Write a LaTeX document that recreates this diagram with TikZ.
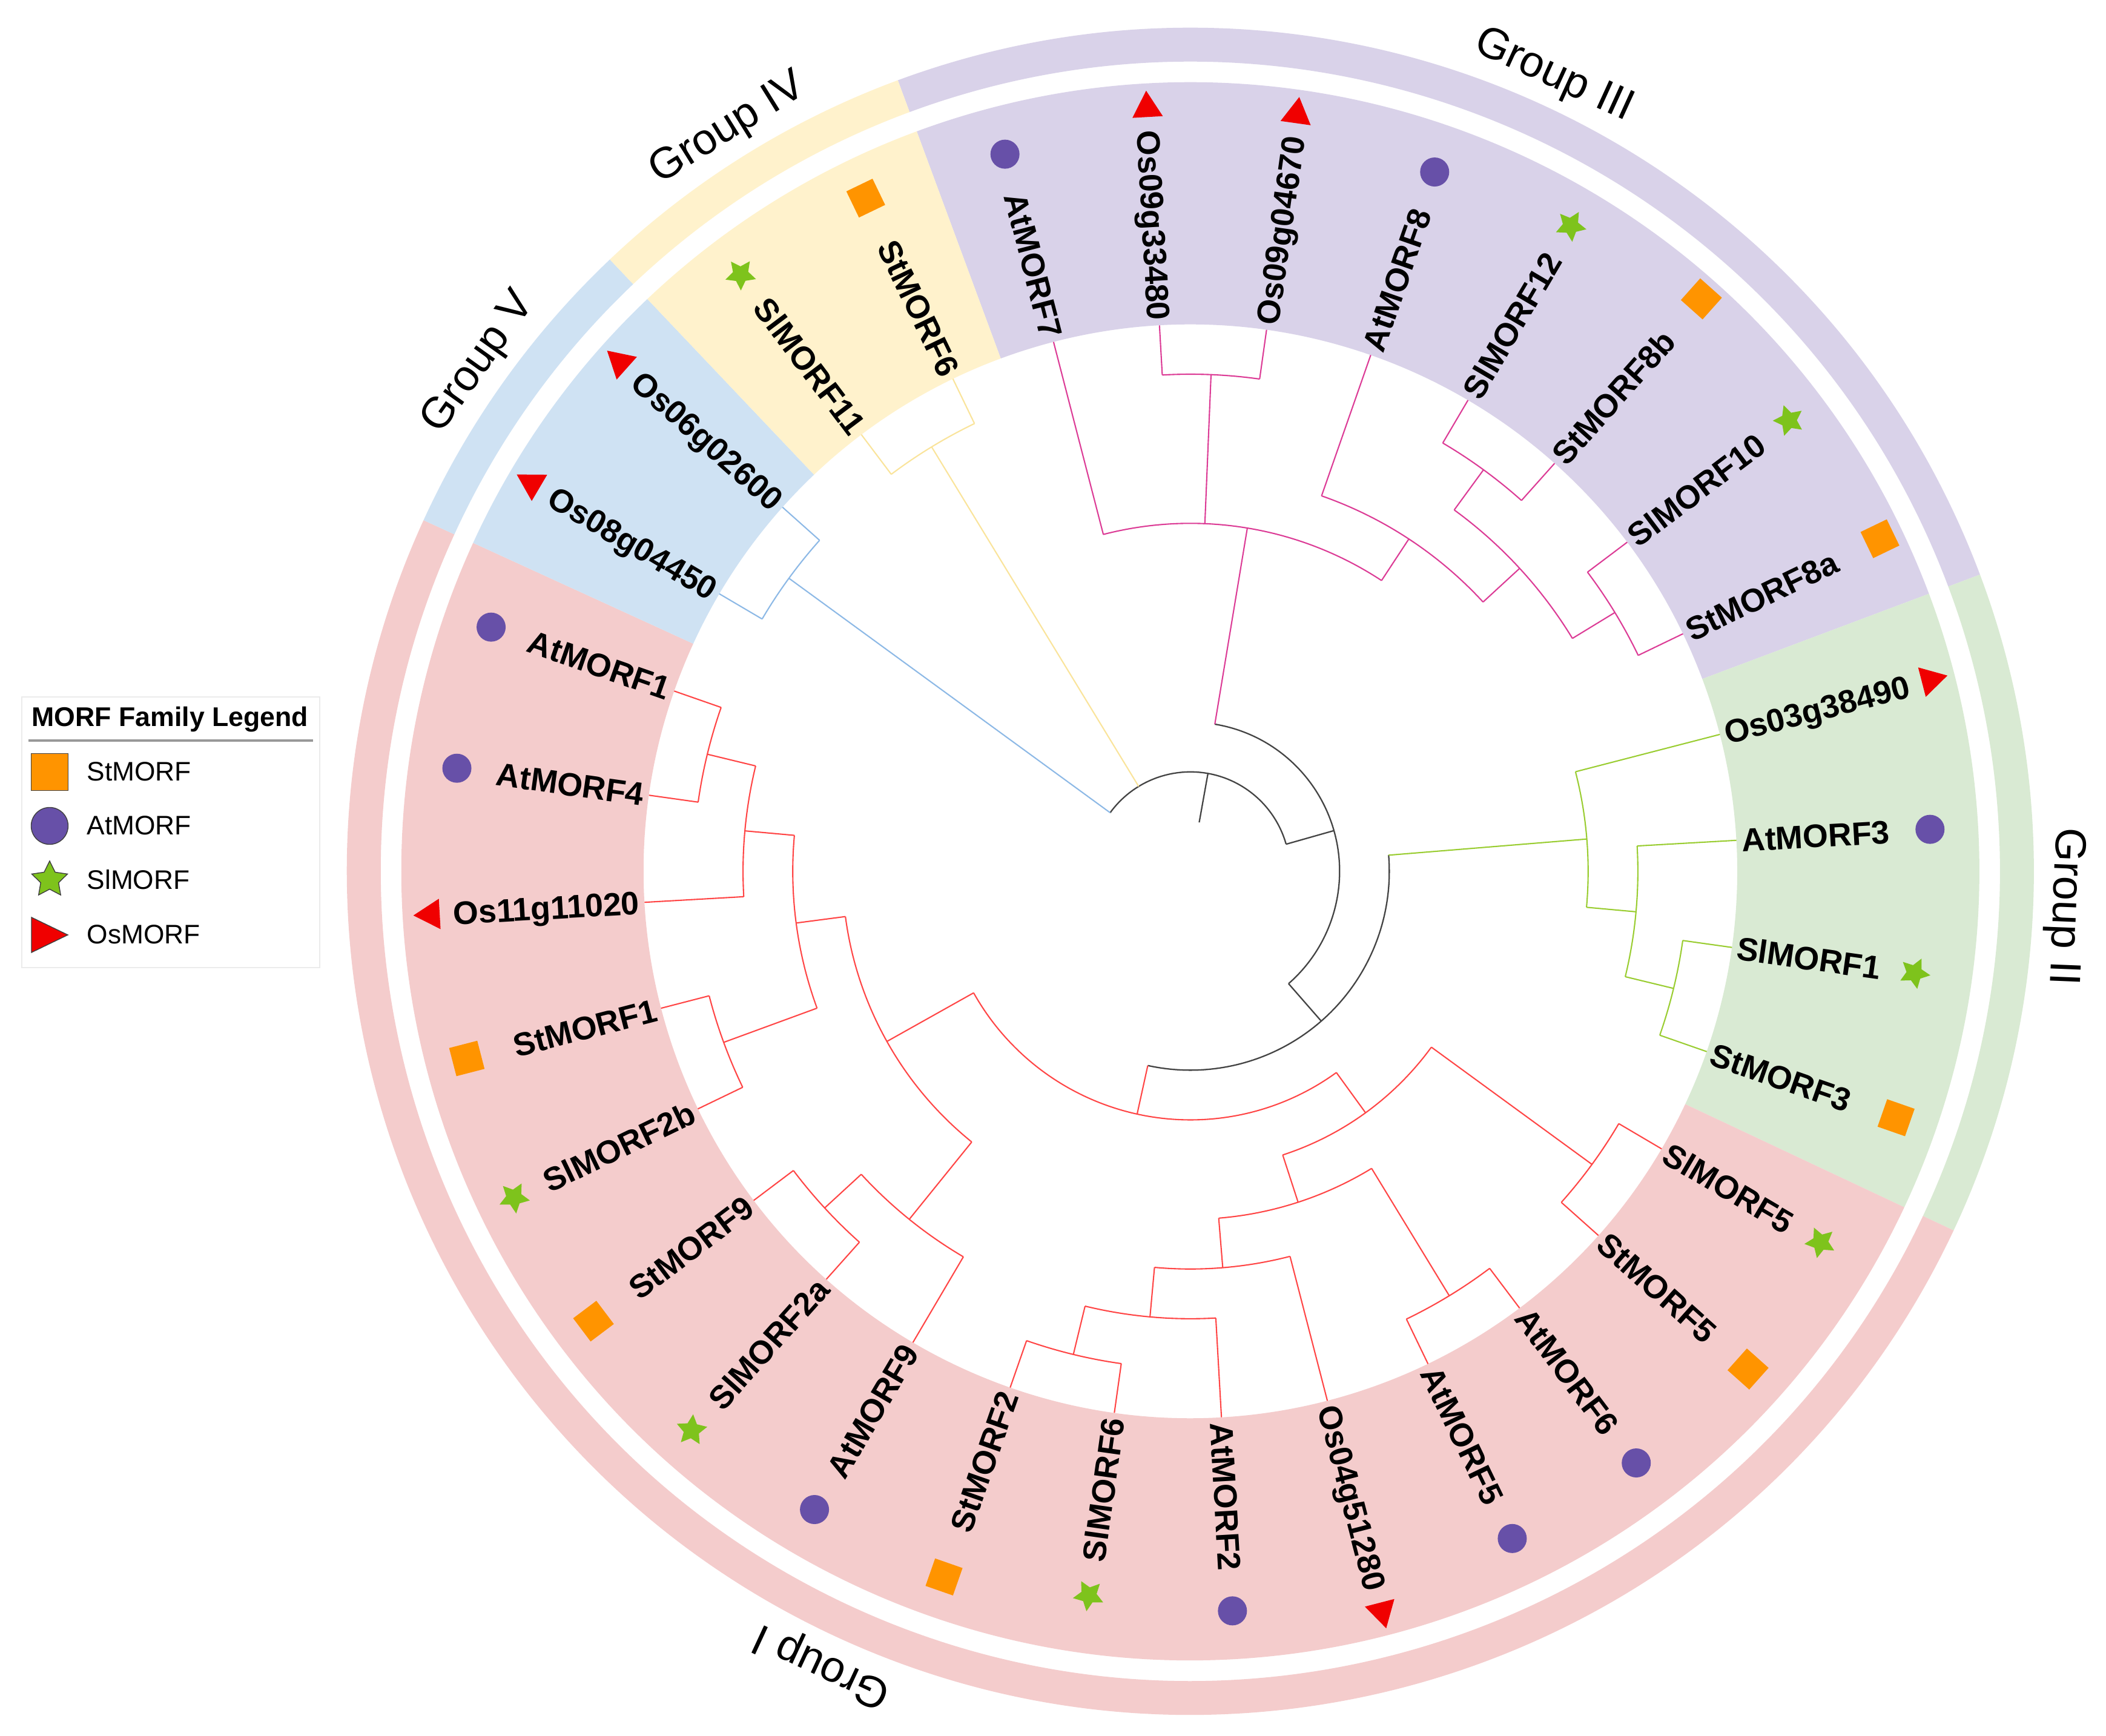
\documentclass[tikz,border=0pt]{standalone}
\usepackage{fontspec}
\setmainfont{Liberation Sans}
\usetikzlibrary{shapes.geometric,calc}

\definecolor{secI}{HTML}{F4CCCC}
\definecolor{secII}{HTML}{D9EAD3}
\definecolor{secIII}{HTML}{D9D2E9}
\definecolor{secIV}{HTML}{FFF2CC}
\definecolor{secV}{HTML}{CFE2F3}
\definecolor{brI}{HTML}{FF4646}
\definecolor{brII}{HTML}{9ACD32}
\definecolor{brIII}{HTML}{DC3C96}
\definecolor{brIV}{HTML}{FAE49B}
\definecolor{brV}{HTML}{8DB9E6}
\definecolor{brR}{HTML}{444444}
\definecolor{mSt}{HTML}{FF9400}
\definecolor{mAt}{HTML}{6750A8}
\definecolor{mSl}{HTML}{7EC31C}
\definecolor{mOs}{HTML}{F00000}

\tikzset{
  tR/.style={draw=brR, line width=0.65pt},
  tI/.style={draw=brI, line width=0.6pt},
  tII/.style={draw=brII, line width=0.6pt},
  tIII/.style={draw=brIII, line width=0.6pt},
  tIV/.style={draw=brIV, line width=0.6pt},
  tV/.style={draw=brV, line width=0.6pt},
  leaflab/.style={font=\fontsize{15.3}{18}\selectfont\bfseries, inner sep=0pt, text height=10.9pt, text depth=0pt},
  grplab/.style={font=\fontsize{20.5}{24}\selectfont, inner sep=0pt, text height=14.7pt, text depth=0pt},
  leglab/.style={font=\fontsize{12.6}{15}\selectfont, inner sep=0pt, text height=9pt, text depth=0pt, anchor=west},
  mkSt/.style={rectangle, fill=mSt, minimum size=0.48cm, inner sep=0pt, rotate=#1},
  mkAt/.style={circle, fill=mAt, minimum size=0.48cm, inner sep=0pt},
  mkSl/.style={star, star points=5, star point ratio=2.0, fill=mSl, minimum size=0.53cm, inner sep=0pt, rotate=#1-90},
  mkOs/.style={regular polygon, regular polygon sides=3, fill=mOs, minimum size=0.58cm, inner sep=0pt, rotate=#1-90},
}

\newcommand\leaf[5]{%
  \coordinate (t#1) at (#2:9.031);
  \pgfmathsetmacro\lcs{cos(#2)}%
  \ifdim\lcs pt<0pt
    \pgfmathsetmacro\lrot{#2+180}%
    \node[leaflab, rotate=\lrot, anchor=east] (l#1) at (#2:9.11) {#3};
    \node[#4=#2] (m#1) at ($(l#1.west)+(#2:#5)$) {};
  \else
    \node[leaflab, rotate=#2, anchor=west] (l#1) at (#2:9.11) {#3};
    \node[#4=#2] (m#1) at ($(l#1.east)+(#2:#5)$) {};
  \fi
}
\newcommand\lSt[3]{\leaf{#1}{#2}{#3}{mkSt}{0.80}}
\newcommand\lAt[3]{\leaf{#1}{#2}{#3}{mkAt}{0.66}}
\newcommand\lSl[3]{\leaf{#1}{#2}{#3}{mkSl}{0.56}}
\newcommand\lOs[3]{\leaf{#1}{#2}{#3}{mkOs}{0.36}}

\newcommand\tarc[4]{\draw[#1] (#2:#4) arc[start angle=#2, end angle=#3, radius=#4];}
\newcommand\tbranch[4]{\draw[#1] (#2:#3) -- (#4);}
\newcommand\sector[5]{\fill[#1] (#2:#4) arc[start angle=#2, end angle=#3, radius=#4] -- (#3:#5) arc[start angle=#3, end angle=#2, radius=#5] -- cycle;}

\begin{document}
\begin{tikzpicture}
\useasboundingbox (-19.66,-14.28) rectangle (15.12,14.39);
\fill[white] (-19.66,-14.28) rectangle (15.12,14.39);

% ---- coloured sectors and outer ring
\sector{secIII}{110.3}{20.6}{9.031}{13.03}
\sector{secII}{20.6}{-25.2}{9.031}{13.03}
\sector{secI}{-25.2}{-204.6}{9.031}{13.03}
\sector{secV}{-204.6}{-226.5}{9.031}{13.03}
\sector{secIV}{-226.5}{-249.7}{9.031}{13.03}
\sector{secIII}{110.3}{20.6}{13.37}{13.93}
\sector{secII}{20.6}{-25.2}{13.37}{13.93}
\sector{secI}{-25.2}{-204.6}{13.37}{13.93}
\sector{secV}{-204.6}{-226.5}{13.37}{13.93}
\sector{secIV}{-226.5}{-249.7}{13.37}{13.93}

% ---- leaves: labels and markers
\lOs{0}{14.5}{Os03g38490}
\lAt{1}{3.25}{AtMORF3}
\lSl{2}{-8}{SlMORF1}
\lSt{3}{-19.25}{StMORF3}
\lSl{4}{-30.5}{SlMORF5}
\lSt{5}{-41.75}{StMORF5}
\lAt{6}{-53}{AtMORF6}
\lAt{7}{-64.25}{AtMORF5}
\lOs{8}{-75.5}{Os04g51280}
\lAt{9}{-86.75}{AtMORF2}
\lSl{10}{-98}{SlMORF6}
\lSt{11}{-109.25}{StMORF2}
\lAt{12}{-120.5}{AtMORF9}
\lSl{13}{-131.75}{SlMORF2a}
\lSt{14}{-143}{StMORF9}
\lSl{15}{-154.25}{SlMORF2b}
\lSt{16}{-165.5}{StMORF1}
\lOs{17}{-176.75}{Os11g11020}
\lAt{18}{-188}{AtMORF4}
\lAt{19}{-199.25}{AtMORF1}
\lOs{20}{-210.5}{Os08g04450}
\lOs{21}{-221.75}{Os06g02600}
\lSl{22}{-233}{SlMORF11}
\lSt{23}{-244.25}{StMORF6}
\lAt{24}{-255.5}{AtMORF7}
\lOs{25}{-266.75}{Os09g33480}
\lOs{26}{-278}{Os09g04670}
\lAt{27}{-289.25}{AtMORF8}
\lSl{28}{-300.5}{SlMORF12}
\lSt{29}{-311.75}{StMORF8b}
\lSl{30}{-323}{SlMORF10}
\lSt{31}{-334.25}{StMORF8a}

% ---- backbone
\coordinate (r0) at (79.86:0.821);
\coordinate (r1) at (79.86:1.642);
\draw[tR] (r0) -- (r1);
\tarc{tR}{143.875}{15.84}{1.642}
\coordinate (nA2) at (15.84:2.463);
\tbranch{tR}{15.84}{1.642}{nA2}
\tarc{tR}{80.59}{-48.87}{2.463}
\coordinate (nA3) at (-48.87:3.284);
\tbranch{tR}{-48.87}{2.463}{nA3}
\tarc{tR}{4.66}{-102.39}{3.284}

% ---- group roots
\coordinate (gV) at (143.875:8.21);  \tbranch{tV}{143.875}{1.642}{gV}
\coordinate (gIV) at (121.375:8.21); \tbranch{tIV}{121.375}{1.642}{gIV}
\coordinate (gIII) at (80.59:5.747); \tbranch{tIII}{80.59}{2.463}{gIII}
\coordinate (gII) at (4.66:6.568);   \tbranch{tII}{4.66}{3.284}{gII}
\coordinate (gI) at (-102.39:4.105); \tbranch{tI}{-102.39}{3.284}{gI}

% ---- Group V
\tarc{tV}{149.5}{138.25}{8.21}
\tbranch{tV}{149.5}{8.21}{t20}
\tbranch{tV}{138.25}{8.21}{t21}
% ---- Group IV
\tarc{tIV}{127}{115.75}{8.21}
\tbranch{tIV}{127}{8.21}{t22}
\tbranch{tIV}{115.75}{8.21}{t23}

% ---- Group III
\tarc{tIII}{104.5}{56.69}{5.747}
\tbranch{tIII}{104.5}{5.747}{t24}
\coordinate (nP) at (87.625:8.21); \tbranch{tIII}{87.625}{5.747}{nP}
\tarc{tIII}{93.25}{82}{8.21}
\tbranch{tIII}{93.25}{8.21}{t25}
\tbranch{tIII}{82}{8.21}{t26}
\coordinate (nX) at (56.69:6.568); \tbranch{tIII}{56.69}{5.747}{nX}
\tarc{tIII}{70.75}{42.625}{6.568}
\tbranch{tIII}{70.75}{6.568}{t27}
\coordinate (nY) at (42.625:7.389); \tbranch{tIII}{42.625}{6.568}{nY}
\tarc{tIII}{53.875}{31.375}{7.389}
\coordinate (nZ) at (53.875:8.21); \tbranch{tIII}{53.875}{7.389}{nZ}
\tarc{tIII}{59.5}{48.25}{8.21}
\tbranch{tIII}{59.5}{8.21}{t28}
\tbranch{tIII}{48.25}{8.21}{t29}
\coordinate (nW) at (31.375:8.21); \tbranch{tIII}{31.375}{7.389}{nW}
\tarc{tIII}{37}{25.75}{8.21}
\tbranch{tIII}{37}{8.21}{t30}
\tbranch{tIII}{25.75}{8.21}{t31}

% ---- Group II
\tarc{tII}{14.5}{-5.19}{6.568}
\tbranch{tII}{14.5}{6.568}{t0}
\coordinate (nQ) at (-5.19:7.389); \tbranch{tII}{-5.19}{6.568}{nQ}
\tarc{tII}{3.25}{-13.625}{7.389}
\tbranch{tII}{3.25}{7.389}{t1}
\coordinate (nR) at (-13.625:8.21); \tbranch{tII}{-13.625}{7.389}{nR}
\tarc{tII}{-8}{-19.25}{8.21}
\tbranch{tII}{-8}{8.21}{t2}
\tbranch{tII}{-19.25}{8.21}{t3}

% ---- Group I
\tarc{tI}{-54.05}{-150.73}{4.105}
\coordinate (n494) at (-54.05:4.926); \tbranch{tI}{-54.05}{4.105}{n494}
\tarc{tI}{-36.125}{-71.98}{4.926}
\coordinate (nS5) at (-36.125:8.21); \tbranch{tI}{-36.125}{4.926}{nS5}
\tarc{tI}{-30.5}{-41.75}{8.21}
\tbranch{tI}{-30.5}{8.21}{t4}
\tbranch{tI}{-41.75}{8.21}{t5}
\coordinate (n576) at (-71.98:5.747); \tbranch{tI}{-71.98}{4.926}{n576}
\tarc{tI}{-58.625}{-85.34}{5.747}
\coordinate (nA56) at (-58.625:8.21); \tbranch{tI}{-58.625}{5.747}{nA56}
\tarc{tI}{-53}{-64.25}{8.21}
\tbranch{tI}{-53}{8.21}{t6}
\tbranch{tI}{-64.25}{8.21}{t7}
\coordinate (n658) at (-85.34:6.568); \tbranch{tI}{-85.34}{5.747}{n658}
\tarc{tI}{-75.5}{-95.19}{6.568}
\tbranch{tI}{-75.5}{6.568}{t8}
\coordinate (n741) at (-95.19:7.389); \tbranch{tI}{-95.19}{6.568}{n741}
\tarc{tI}{-86.75}{-103.625}{7.389}
\tbranch{tI}{-86.75}{7.389}{t9}
\coordinate (nSW) at (-103.625:8.21); \tbranch{tI}{-103.625}{7.389}{nSW}
\tarc{tI}{-98}{-109.25}{8.21}
\tbranch{tI}{-98}{8.21}{t10}
\tbranch{tI}{-109.25}{8.21}{t11}
\coordinate (nL) at (-150.73:5.747); \tbranch{tI}{-150.73}{4.105}{nL}
\tarc{tI}{-128.94}{-172.53}{5.747}
\coordinate (nM) at (-128.94:7.389); \tbranch{tI}{-128.94}{5.747}{nM}
\tarc{tI}{-120.5}{-137.375}{7.389}
\tbranch{tI}{-120.5}{7.389}{t12}
\coordinate (nS2) at (-137.375:8.21); \tbranch{tI}{-137.375}{7.389}{nS2}
\tarc{tI}{-131.75}{-143}{8.21}
\tbranch{tI}{-131.75}{8.21}{t13}
\tbranch{tI}{-143}{8.21}{t14}
\coordinate (nK) at (-172.53:6.568); \tbranch{tI}{-172.53}{5.747}{nK}
\tarc{tI}{-159.875}{-185.19}{6.568}
\coordinate (nB) at (-159.875:8.21); \tbranch{tI}{-159.875}{6.568}{nB}
\tarc{tI}{-154.25}{-165.5}{8.21}
\tbranch{tI}{-154.25}{8.21}{t15}
\tbranch{tI}{-165.5}{8.21}{t16}
\coordinate (nJ) at (-185.19:7.389); \tbranch{tI}{-185.19}{6.568}{nJ}
\tarc{tI}{-176.75}{-193.625}{7.389}
\tbranch{tI}{-176.75}{7.389}{t17}
\coordinate (nA14) at (-193.625:8.21); \tbranch{tI}{-193.625}{7.389}{nA14}
\tarc{tI}{-188}{-199.25}{8.21}
\tbranch{tI}{-188}{8.21}{t18}
\tbranch{tI}{-199.25}{8.21}{t19}

% ---- group labels
\node[grplab, rotate=-24.55] (gl3) at (65.45:14.52) {Group III};
\node[grplab, rotate=-92.3] (gl2) at (-2.3:14.52) {Group II};
\node[grplab, rotate=-204.9] (gl1) at (-114.9:14.52) {Group I};
\node[grplab, rotate=54.45] (gl5) at (144.45:14.52) {Group V};
\node[grplab, rotate=31.9] (gl4) at (121.9:14.52) {Group IV};

% ---- legend
\node[draw=black!8, line width=0.6pt, fill=white, minimum width=4.92cm, minimum height=4.47cm, anchor=north west, inner sep=0pt] (legbox) at (-19.31,2.89) {};
\node[leglab, font=\fontsize{12.7}{15}\selectfont\bfseries] (legt) at (-19.14,2.55) {MORF Family Legend};
\coordinate (sepL) at (-19.19,2.16);
\coordinate (sepR) at (-14.49,2.16);
\draw[black!40, line width=0.9pt] (sepL) -- (sepR);
\node[rectangle, fill=mSt, draw=black!75, line width=0.4pt, minimum size=0.61cm, inner sep=0pt] (lgSt) at (-18.84,1.64) {};
\node[circle, fill=mAt, draw=black!75, line width=0.4pt, minimum size=0.61cm, inner sep=0pt] (lgAt) at (-18.84,0.75) {};
\node[star, star points=5, star point ratio=2.0, fill=mSl, draw=black!75, line width=0.4pt, minimum size=0.62cm, inner sep=0pt] (lgSl) at (-18.84,-0.14) {};
\coordinate (lgOs) at (-18.84,-1.05);
\draw[fill=mOs, draw=black!75, line width=0.4pt] ($(lgOs)+(-0.30,0.29)$) -- ($(lgOs)+(0.30,0)$) -- ($(lgOs)+(-0.30,-0.29)$) -- cycle;
\node[leglab] (ltSt) at (-18.23,1.65) {StMORF};
\node[leglab] (ltAt) at (-18.23,0.76) {AtMORF};
\node[leglab] (ltSl) at (-18.23,-0.14) {SlMORF};
\node[leglab] (ltOs) at (-18.23,-1.04) {OsMORF};
\end{tikzpicture}
\end{document}
